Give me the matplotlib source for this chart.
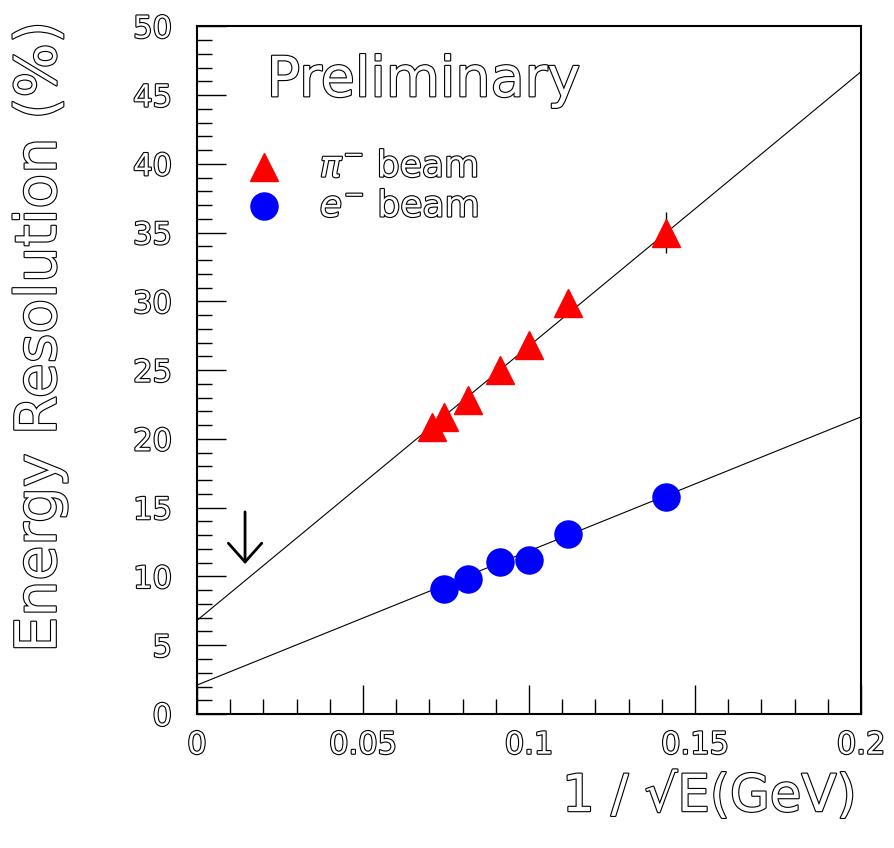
import numpy as np
import matplotlib
matplotlib.use("Agg")
import matplotlib.pyplot as plt
import matplotlib.patheffects as pe

# beam energies (GeV) and measured resolutions (%)
pi_energy = np.array([200, 180, 150, 120, 100, 80, 50])
pi_res = np.array([20.9, 21.6, 22.8, 25.0, 26.8, 29.9, 35.0])
pi_err = np.array([0.3, 0.3, 0.3, 0.4, 0.4, 0.5, 1.5])

e_energy = np.array([180, 150, 120, 100, 80, 50])
e_res = np.array([9.1, 9.8, 11.05, 11.2, 13.1, 15.8])

# fitted lines: intercept, slope
pi_fit = (6.8, 199.5)
e_fit = (2.1, 97.5)

outline = [pe.withStroke(linewidth=1.6, foreground="black")]
txt = dict(color="white", path_effects=outline, family="DejaVu Sans")

fig = plt.figure(figsize=(8.95, 8.48), dpi=100)
ax = fig.add_axes([0.220, 0.158, 0.742, 0.811])

xs = np.linspace(0, 0.2, 50)
ax.plot(xs, pi_fit[0] + pi_fit[1] * xs, color="black", lw=0.8, zorder=1)
ax.plot(xs, e_fit[0] + e_fit[1] * xs, color="black", lw=0.8, zorder=1)

ax.errorbar(1 / np.sqrt(pi_energy), pi_res, yerr=pi_err, fmt="^", ms=20,
            color="red", ecolor="black", elinewidth=1, capsize=0, zorder=3)
ax.plot(1 / np.sqrt(e_energy), e_res, "o", ms=19.5, color="blue", zorder=3)

# legend
ax.plot([0.0202], [39.8], "^", ms=20, color="red")
ax.plot([0.0202], [36.9], "o", ms=19.5, color="blue")
ax.text(0.037, 39.8, r"$\pi^{-}$ beam", fontsize=26, va="center", **txt)
ax.text(0.037, 36.9, r"$e^{-}$ beam", fontsize=26, va="center", **txt)

ax.text(0.021, 46.0, "Preliminary", fontsize=40, va="center", **txt)

ax.annotate("", xy=(0.0145, 10.7), xytext=(0.0145, 14.9),
            arrowprops=dict(arrowstyle="->, head_length=0.45, head_width=0.4",
                            lw=2, color="black", mutation_scale=30))

ax.set_xlim(0, 0.2)
ax.set_ylim(0, 50)
ax.set_xticks(np.arange(0, 0.201, 0.05))
ax.set_xticks(np.arange(0, 0.201, 0.01), minor=True)
ax.set_yticks(np.arange(0, 51, 5))
ax.set_yticks(np.arange(0, 51, 1), minor=True)
ax.set_xticklabels(["0", "0.05", "0.1", "0.15", "0.2"])
ax.tick_params(which="both", direction="in", top=False, right=False, width=1)
ax.tick_params(which="major", length=21, labelsize=22)
ax.tick_params(axis="y", which="major", pad=18)
ax.tick_params(axis="x", which="major", pad=12)
ax.tick_params(which="minor", length=10.5)
for lab in ax.get_xticklabels() + ax.get_yticklabels():
    lab.set_color("white")
    lab.set_path_effects(outline)
for sp in ax.spines.values():
    sp.set_linewidth(1.5)

fig.text(0.957, 0.060, "1 / \u221aE(GeV)", fontsize=37, ha="right", va="center", **txt)
fig.text(0.045, 0.603, "Energy Resolution (%)", fontsize=41, rotation=90,
         ha="center", va="center", **txt)

fig.savefig("out.png", dpi=100)
